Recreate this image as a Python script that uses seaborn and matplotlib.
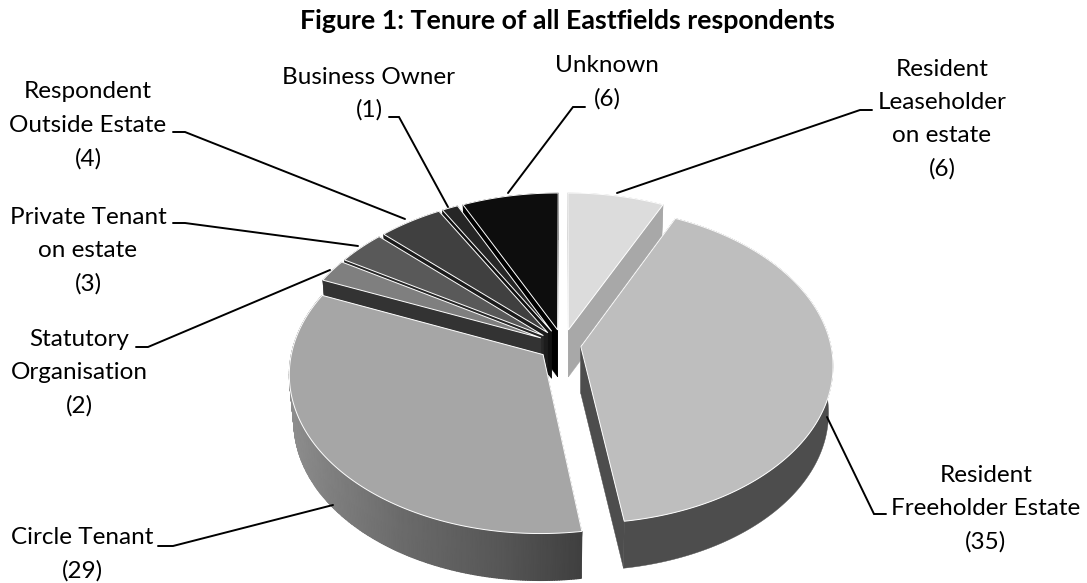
# Figure 1 - exploded 3D style pie, tenure of Eastfields respondents.
import numpy as np
import seaborn as sns
import matplotlib.pyplot as plt

sns.set_theme(style='white')
plt.rcParams['font.family'] = ['Lato', 'DejaVu Sans']

# ==================================== Data ============================================================
categories = ['Resident Leaseholder on estate', 'Resident Freeholder Estate', 'Circle Tenant',
              'Statutory Organisation', 'Private Tenant on estate', 'Respondent Outside Estate',
              'Business Owner', 'Unknown']
counts = [6, 35, 29, 2, 3, 4, 1, 6]

# ==================================== Styles ==========================================================
top_colors = ['#dcdcdc', '#bebebe', '#a6a6a6', '#7f7f7f', '#595959', '#404040', '#262626', '#0d0d0d']
wall_colors = ['#a8a8a8', '#4d4d4d', '#6a6a6a', '#333333', '#272727', '#1c1c1c', '#111111', '#000000']
explode = [0.10, 0.072, 0.10, 0.10, 0.10, 0.10, 0.10, 0.10]
draw_order = [0, 7, 6, 5, 4, 3, 2, 1]

# Camera, fitted by eye in pixels.
cx, cy = 563, 345
rx, ry = 250, 156
persp = 0.115
depth = 47
base_shrink = 0.982  # lower rim sits a little inside the upper one

# Gradient of the Circle Tenant side wall, grey level against x pixel.
grad_x = [290, 330, 400, 500, 582]
grad_g = [0.56, 0.50, 0.42, 0.34, 0.25]


def project(theta, r, mid, ex):
    u = r * np.sin(theta) + ex * np.sin(mid)
    v = r * np.cos(theta) + ex * np.cos(mid)
    s = 1 + persp * v
    return cx + rx * u / s, cy - ry * v / s


fig, ax = plt.subplots(figsize=(10.87, 5.83), dpi=100)
fig.subplots_adjust(0, 0, 1, 1)
ax.set_xlim(0, 1087)
ax.set_ylim(583, 0)
ax.axis('off')

edges = np.radians(np.concatenate([[0], np.cumsum(counts)]) / np.sum(counts) * 360)

for i in draw_order:
    t0, t1 = edges[i], edges[i + 1]
    mid = (t0 + t1) / 2
    arc = np.linspace(t0, t1, max(int(np.degrees(t1 - t0)) * 2 + 2, 6))
    x, y = project(arc, 1.0, mid, explode[i])
    ax0, ay0 = project(0.0, 0.0, mid, explode[i])
    bx = ax0 + (x - ax0) * base_shrink
    by = y + depth

    # cut faces
    for k in [0, -1]:
        ax.fill([ax0, x[k], bx[k], ax0], [ay0, y[k], by[k], ay0 + depth],
                color=wall_colors[i], lw=0.3, zorder=2)

    # rim
    if i == 2:
        gx = np.vstack([x, bx])
        gy = np.vstack([y, by])
        gc = np.interp(gx, grad_x, grad_g)
        ax.pcolormesh(gx, gy, gc, shading='gouraud', cmap='gray', vmin=0, vmax=1, zorder=2)
    else:
        ax.fill(np.r_[x, bx[::-1]], np.r_[y, by[::-1]], color=wall_colors[i], lw=0.3, zorder=2)

    # top surface
    ax.fill(np.r_[ax0, x], np.r_[ay0, y], facecolor=top_colors[i],
            edgecolor='white', lw=0.7, zorder=2)

# ==================================== Labels ==========================================================
ax.text(567, 21, 'Figure 1: Tenure of all Eastfields respondents', ha='center', va='center',
        fontsize=19.3, fontweight='bold', color='black')

line_gap = 33.3
labels = [
    (942, 69, ['Resident', 'Leaseholder', 'on estate', '(6)']),
    (986, 475, ['Resident', 'Freeholder Estate', '(35)']),
    (82, 538, ['Circle Tenant', '(29)']),
    (79, 339, ['Statutory', 'Organisation', '(2)']),
    (88, 217, ['Private Tenant', 'on estate', '(3)']),
    (88, 92, ['Respondent', 'Outside Estate', '(4)']),
    (369, 77, ['Business Owner', '(1)']),
    (607, 66, ['Unknown', '(6)']),
]
for lx, ly, lines in labels:
    for n, line in enumerate(lines):
        ax.text(lx, ly + n * line_gap, line, ha='center', va='center', fontsize=17.5, color='black')

leaders = [
    ([872, 860, 617], [110, 110, 193]),
    ([886, 874, 827], [514, 514, 417]),
    ([158, 173, 333], [546, 546, 505]),
    ([136, 148, 330], [347, 347, 270]),
    ([173, 185, 358], [223, 223, 246]),
    ([173, 185, 405], [132, 132, 219]),
    ([389, 399, 448], [117, 117, 207]),
    ([585, 573, 508], [107, 107, 193]),
]
for lx, ly in leaders:
    ax.plot(lx, ly, color='black', lw=1.4, solid_joinstyle='miter', zorder=3)

fig.savefig('out.png', dpi=100)
